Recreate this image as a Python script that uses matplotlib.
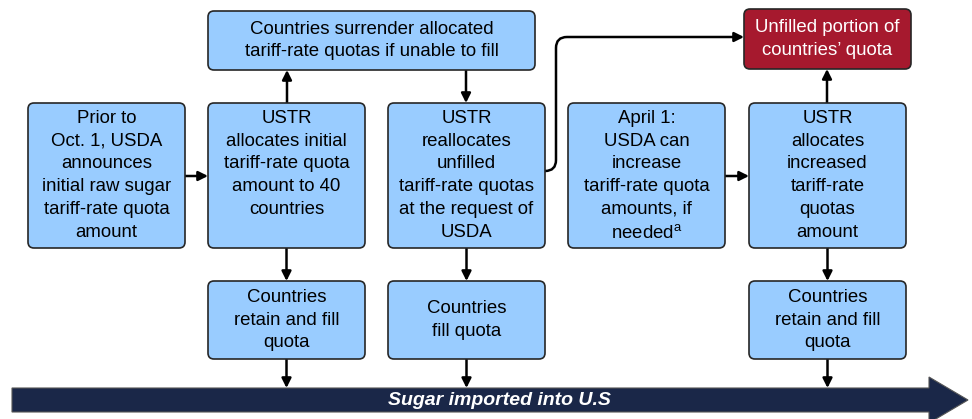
import matplotlib.pyplot as plt
from matplotlib.patches import FancyBboxPatch, FancyArrowPatch, Polygon
from matplotlib.path import Path

plt.rcParams['font.family'] = ['Liberation Sans', 'DejaVu Sans']
plt.rcParams['mathtext.fontset'] = 'custom'
plt.rcParams['mathtext.rm'] = 'Liberation Sans'

# box texts
step_labels = [
    "Prior to\nOct. 1, USDA\nannounces\ninitial raw sugar\ntariff-rate quota\namount",
    "USTR\nallocates initial\ntariff-rate quota\namount to 40\ncountries",
    "USTR\nreallocates\nunfilled\ntariff-rate quotas\nat the request of\nUSDA",
    "April 1:\nUSDA can\nincrease\ntariff-rate quota\namounts, if\nneeded$^\\mathrm{a}$",
    "USTR\nallocates\nincreased\ntariff-rate\nquotas\namount",
]
fill_labels = [
    "Countries\nretain and fill\nquota",
    "Countries\nfill quota",
    "Countries\nretain and fill\nquota",
]
surrender_label = "Countries surrender allocated\ntariff-rate quotas if unable to fill"
unfilled_label = "Unfilled portion of\ncountries\u2019 quota"
banner_label = "Sugar imported into U.S"

# layout (pixels, y down)
step_x = [28, 208, 388, 568, 749]
step_w = 157
step_top, step_bot = 103, 248
fill_x = [208, 388, 749]
fill_top, fill_bot = 281, 359

BLUE = '#99CCFF'
EDGE = '#262626'
RED = '#A6192E'
NAVY = '#1A2748'
FS = 13.4
LS = 1.44

fig = plt.figure(figsize=(9.72, 4.19), dpi=100)
ax = fig.add_axes([0, 0, 1, 1])
ax.set_xlim(0, 972)
ax.set_ylim(419, 0)
ax.axis('off')


def box(x0, y0, x1, y1, color, text, tcolor='black', va='center', ty=None):
    p = FancyBboxPatch((x0, y0), x1 - x0, y1 - y0,
                       boxstyle="round,pad=0,rounding_size=6",
                       fc=color, ec=EDGE, lw=1.2, zorder=2)
    ax.add_patch(p)
    if ty is None:
        ty = (y0 + y1) / 2
    ax.text((x0 + x1) / 2, ty, text, ha='center', va=va, fontsize=FS,
            color=tcolor, linespacing=LS, zorder=3)


def arrow(x0, y0, x1, y1):
    a = FancyArrowPatch((x0, y0), (x1, y1), arrowstyle='-|>', mutation_scale=14,
                        lw=1.8, color='black', shrinkA=0, shrinkB=0, zorder=1)
    ax.add_patch(a)


for x, lab in zip(step_x, step_labels):
    box(x, step_top, x + step_w, step_bot, BLUE, lab, va='top', ty=step_top + 7)

for x, lab in zip(fill_x, fill_labels):
    box(x, fill_top, x + step_w, fill_bot, BLUE, lab)

box(208, 11, 535, 70, BLUE, surrender_label)
box(744, 9, 911, 69, RED, unfilled_label, tcolor='white')

# arrows
arrow(184, 176, 208, 176)
arrow(725, 176, 749, 176)
arrow(287, 103, 287, 70)
arrow(466, 70, 466, 103)
arrow(827, 103, 827, 69)
for x in fill_x:
    cx = x + step_w / 2
    arrow(cx, step_bot, cx, fill_top)
    arrow(cx, fill_bot, cx, 388)

# elbow connector to unfilled box
verts = [(545, 171), (556, 171), (556, 160), (556, 48), (556, 37), (567, 37), (744, 37)]
codes = [Path.MOVETO, Path.CURVE3, Path.CURVE3, Path.LINETO, Path.CURVE3, Path.CURVE3, Path.LINETO]
ax.add_patch(FancyArrowPatch(path=Path(verts, codes), arrowstyle='-|>', mutation_scale=14,
                             lw=1.8, color='black', zorder=1))

# banner arrow
ax.add_patch(Polygon([(12, 388), (929, 388), (929, 377), (968, 400), (929, 423),
                      (929, 412), (12, 412)], closed=True, fc=NAVY, ec='#555555',
                     lw=0.8, zorder=2))
ax.text(499, 400, banner_label, ha='center', va='center', color='white',
        fontsize=14, fontweight='bold', fontstyle='italic', zorder=3)

fig.savefig('out.png', dpi=100)
